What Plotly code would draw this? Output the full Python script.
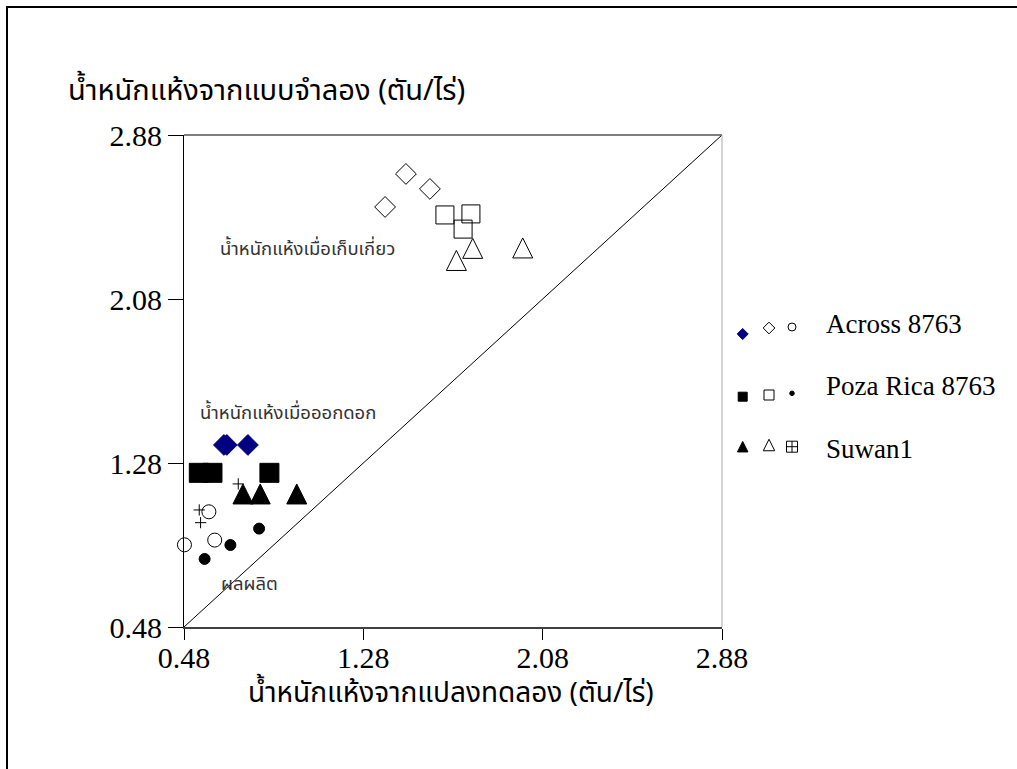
import plotly.graph_objects as go

# Canvas and plot-area geometry (pixels)
W, H = 1017, 769
PLOT_L, PLOT_R, PLOT_T, PLOT_B = 184, 722, 135, 627

AXIS_MIN, AXIS_MAX = 0.48, 2.88
tick_vals = [0.48, 1.28, 2.08, 2.88]
tick_text = ["0.48", "1.28", "2.08", "2.88"]

varieties = ["Across 8763", "Poza Rica 8763", "Suwan1"]

# 1:1 reference line
one_to_one = [0.48, 2.88]

# Across 8763 (observed vs simulated, ton/rai)
across_flower_obs = [0.658, 0.671, 0.765]
across_flower_sim = [1.368, 1.368, 1.368]
across_harvest_obs = [1.377, 1.470, 1.577]
across_harvest_sim = [2.529, 2.690, 2.617]
across_yield_obs = [0.482, 0.591, 0.617]
across_yield_sim = [0.881, 1.042, 0.904]

# Poza Rica 8763
poza_flower_obs = [0.546, 0.607, 0.861]
poza_flower_sim = [1.232, 1.232, 1.232]
poza_harvest_obs = [1.644, 1.760, 1.725]
poza_harvest_sim = [2.490, 2.495, 2.421]
poza_yield_obs = [0.572, 0.687, 0.815]
poza_yield_sim = [0.812, 0.880, 0.960]

# Suwan1
suwan_flower_obs = [0.743, 0.820, 0.983]
suwan_flower_sim = [1.129, 1.129, 1.129]
suwan_harvest_obs = [1.695, 1.768, 1.991]
suwan_harvest_sim = [2.268, 2.327, 2.329]
suwan_yield_obs = [0.722, 0.548, 0.554]
suwan_yield_sim = [1.178, 1.051, 0.989]

x_title = "น้ำหนักแห้งจากแปลงทดลอง (ตัน/ไร่)"
y_title = "น้ำหนักแห้งจากแบบจำลอง (ตัน/ไร่)"
label_harvest = "น้ำหนักแห้งเมื่อเก็บเกี่ยว"
label_flower = "น้ำหนักแห้งเมื่อออกดอก"
label_yield = "ผลผลิต"

SERIF = "Liberation Serif, Times New Roman, serif"
THAI = "Noto Sans Thai, Tahoma, Noto Sans, sans-serif"
NAVY = "#000080"


def px_x(p):
    return p / W


def px_y(p):
    return 1 - p / H


def tri(size, filled):
    # upright triangle centred on the point (arrow glyph flipped and shifted)
    return dict(symbol="arrow-down" if filled else "arrow-down-open", angle=180,
                standoff=size / 2, size=size, color="black",
                line=dict(color="black", width=1))


def mk(symbol, size, color="black", lw=1):
    return dict(symbol=symbol, size=size, color=color, line=dict(color=color, width=lw))


fig = go.Figure()

fig.add_trace(go.Scatter(x=one_to_one, y=one_to_one, mode="lines",
                         line=dict(color="black", width=1), hoverinfo="skip"))

series = [
    (across_flower_obs, across_flower_sim, mk("diamond", 16, NAVY)),
    (across_harvest_obs, across_harvest_sim, mk("diamond-open", 16)),
    (across_yield_obs, across_yield_sim, mk("circle-open", 14)),
    (poza_flower_obs, poza_flower_sim, mk("square", 19)),
    (poza_harvest_obs, poza_harvest_sim, mk("square-open", 18)),
    (poza_yield_obs, poza_yield_sim, mk("circle", 11)),
    (suwan_flower_obs, suwan_flower_sim, tri(20, True)),
    (suwan_harvest_obs, suwan_harvest_sim, tri(20, False)),
    (suwan_yield_obs, suwan_yield_sim, mk("cross-thin-open", 8)),
]
for xs, ys, marker in series:
    fig.add_trace(go.Scatter(x=xs, y=ys, mode="markers", marker=marker, cliponaxis=False))

# Legend drawn on a pixel-space overlay axis
leg_x = [742.7, 769.0, 792.0]
leg_rows_y = [[334.0, 328.0, 327.0], [396.7, 395.0, 393.3], [446.7, 445.0, 446.7]]
leg_markers = [
    [mk("diamond", 8.5, NAVY), mk("diamond-open", 9), mk("circle-open", 8)],
    [mk("square", 9), mk("square-open", 10), mk("circle", 4.5)],
    [tri(10.5, True), tri(11.5, False), mk("square-cross-open", 11)],
]
for row_y, row_m in zip(leg_rows_y, leg_markers):
    for cx, cy, m in zip(leg_x, row_y, row_m):
        fig.add_trace(go.Scatter(x=[cx], y=[cy], mode="markers", marker=m,
                                 xaxis="x2", yaxis="y2", cliponaxis=False))

leg_text_y = [324, 386, 449]
annotations = []
for name, ty in zip(varieties, leg_text_y):
    annotations.append(dict(x=824, y=ty, xref="x2", yref="y2", text=name, showarrow=False,
                            xanchor="left", yanchor="middle",
                            font=dict(family=SERIF, size=27, color="black")))

# Axis titles
annotations.append(dict(x=66, y=91, xref="x2", yref="y2", text=y_title, showarrow=False,
                        xanchor="left", yanchor="middle",
                        font=dict(family=THAI, size=29, color="black")))
annotations.append(dict(x=451, y=693, xref="x2", yref="y2", text=x_title, showarrow=False,
                        xanchor="center", yanchor="middle",
                        font=dict(family=THAI, size=28, color="black")))

# Group labels inside the plot
for txt, lx, ly in [(label_harvest, 218, 249), (label_flower, 198, 413), (label_yield, 219, 584)]:
    annotations.append(dict(x=lx, y=ly, xref="x2", yref="y2", text=txt, showarrow=False,
                            xanchor="left", yanchor="middle",
                            font=dict(family=THAI, size=18.5, color="#333333")))

shapes = [
    # outer frame (top and left)
    dict(type="line", xref="paper", yref="paper", x0=px_x(6), x1=1, y0=px_y(7), y1=px_y(7),
         line=dict(color="black", width=2)),
    dict(type="line", xref="paper", yref="paper", x0=px_x(7), x1=px_x(7), y0=px_y(6), y1=0,
         line=dict(color="black", width=2)),
    # plot box top and right
    dict(type="line", xref="x domain", yref="y domain", x0=0, x1=1, y0=1, y1=1,
         line=dict(color="#555555", width=1.5)),
    dict(type="line", xref="x domain", yref="y domain", x0=1, x1=1, y0=0, y1=1,
         line=dict(color="#aaaaaa", width=1)),
]

fig.update_layout(
    template="none",
    width=W, height=H,
    margin=dict(l=0, r=0, t=0, b=0, pad=0, autoexpand=False),
    paper_bgcolor="white", plot_bgcolor="rgba(0,0,0,0)",
    showlegend=False,
    xaxis=dict(domain=[px_x(PLOT_L), px_x(PLOT_R)], range=[AXIS_MIN, AXIS_MAX],
               tickvals=tick_vals, ticktext=tick_text, ticks="outside", ticklen=11,
               ticklabelstandoff=-8,
               tickcolor="black", tickwidth=1, showline=True, linecolor="#404040",
               linewidth=1.5, showgrid=False, zeroline=False, anchor="y",
               automargin=False,
               tickfont=dict(family=SERIF, size=30, color="black"), fixedrange=True),
    yaxis=dict(domain=[px_y(PLOT_B), px_y(PLOT_T)], range=[AXIS_MIN, AXIS_MAX],
               tickvals=tick_vals, ticktext=tick_text, ticks="outside", ticklen=15,
               tickcolor="black", tickwidth=1, showline=True, linecolor="black",
               linewidth=1, showgrid=False, zeroline=False, anchor="x",
               automargin=False,
               tickfont=dict(family=SERIF, size=30, color="black"), fixedrange=True),
    xaxis2=dict(domain=[0, 1], range=[0, W], visible=False, anchor="y2",
                automargin=False, fixedrange=True),
    yaxis2=dict(domain=[0, 1], range=[H, 0], visible=False, anchor="x2",
                automargin=False, fixedrange=True),
    annotations=annotations,
    shapes=shapes,
)

fig.write_html("out.html")
